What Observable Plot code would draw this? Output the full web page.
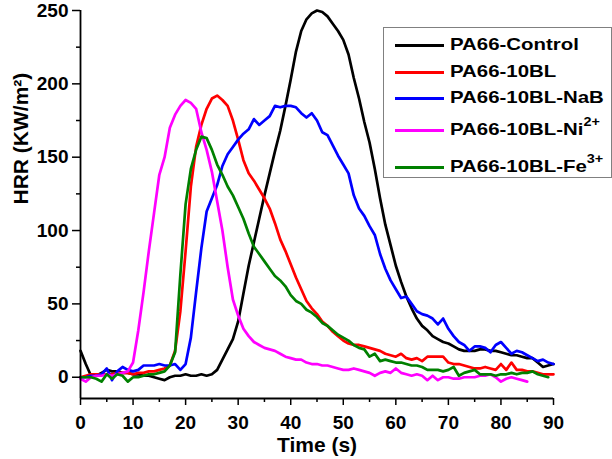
<!DOCTYPE html>
<html>
<head>
<meta charset="utf-8">
<script src="https://cdn.jsdelivr.net/npm/d3@7"></script>
<script src="https://cdn.jsdelivr.net/npm/@observablehq/plot@0.6"></script>
<style>
  html, body { margin: 0; padding: 0; background: #fff; }
  #wrap { position: relative; width: 612px; height: 459px; overflow: hidden; font-family: "Liberation Sans", Arial, sans-serif; }
  #legend { position: absolute; left: 383px; top: 27px; width: 227px; height: 149px; border: 1px solid #808080; background: #fff; }
  .row { position: absolute; left: 0; height: 0; }
  .row .sw { position: absolute; left: 11px; width: 49px; height: 3px; margin-top: -1.5px; }
  .row .lb { position: absolute; left: 66px; top: -11px; white-space: nowrap; font-weight: bold; font-size: 17px; line-height: 22px; color: #000; transform: scaleX(1.2); transform-origin: left center; }
  .row sup { font-size: 12px; position: relative; top: -2px; vertical-align: super; line-height: 0; }
</style>
</head>
<body>
<div id="wrap"></div>
<script>
// ---- data ----
const time = [0,1,2,3,4,5,6,7,8,9,10,11,12,13,14,15,16,17,18,19,20,21,22,23,24,25,26,27,28,29,30,31,32,33,34,35,36,37,38,39,40,41,42,43,44,45,46,47,48,49,50,51,52,53,54,55,56,57,58,59,60,61,62,63,64,65,66,67,68,69,70,71,72,73,74,75,76,77,78,79,80,81,82,83,84,85,86,87,88,89,90];

const seriesNames = ["PA66-Control", "PA66-10BL", "PA66-10BL-NaB", "PA66-10BL-Ni2+", "PA66-10BL-Fe3+"];
const seriesColors = ["#000000", "#ff0000", "#0000ff", "#ff00ff", "#008000"];

const control = [18,9,1,1,3,5,4,4,3,3,2,2,1,1,0,-1,-2,0,1,1,2,1,1,2,1,2,5,12,19,26,38,57,76,92,108,124,139,154,168,185,203,222,236,244,248,250,249,246,241,236,230,220,204,190,174,160,142,122,104,90,76,65,55,47,40,35,32,28,26,24,23,21,19,18,18,18,19,19,18,18,17,16,15,15,14,13,13,10,7,8,9];

const bl10 = [0,1,2,2,2,2,2,3,3,3,2,3,3,4,4,5,6,8,18,45,86,130,157,172,183,190,192,189,185,175,162,148,139,134,128,122,115,105,94,86,77,68,60,52,47,43,38,35,31,28,25,23,22,22,21,20,19,18,16,15,14,16,13,12,13,11,14,14,14,14,10,9,9,8,7,6,6,7,6,5,9,5,10,5,5,4,4,3,2,2,2];

const nab = [0,0,1,1,2,6,-2,4,7,5,4,5,8,8,8,9,8,8,9,5,9,27,58,88,113,122,131,144,152,157,162,166,169,176,172,175,178,185,184,185,185,184,180,177,180,175,167,165,158,151,145,139,124,115,110,103,97,84,74,66,60,54,55,50,45,43,42,40,36,40,33,28,24,22,18,21,21,20,17,22,24,20,16,18,17,15,13,11,12,10,9];

const ni = [-1,-3,0,1,1,2,1,2,3,4,10,32,58,86,112,138,150,170,179,185,189,187,183,167,155,140,120,100,75,53,42,33,28,24,22,20,19,18,16,14,13,12,12,10,9,9,8,8,7,6,5,5,6,5,4,3,1,3,4,3,6,3,2,1,2,1,-2,1,-2,0,0,-1,-1,0,0,0,1,1,2,0,-3,-1,0,-1,-2,-3];

const fe = [0,0,0,-1,-3,2,-1,2,1,-3,0,0,1,2,2,3,4,8,17,70,118,142,155,164,163,155,145,138,130,124,116,108,98,89,84,79,74,69,66,62,56,52,50,46,44,41,37,35,32,29,27,25,22,20,19,14,16,11,12,11,10,10,9,8,8,7,5,5,5,4,5,7,1,3,4,5,2,2,2,1,2,2,3,2,3,3,4,2,1,0];

const xTicks = [0,10,20,30,40,50,60,70,80,90];
const xMinorTicks = [5,15,25,35,45,55,65,75,85];
const yTicks = [0,50,100,150,200,250];
const yMinorTicks = [25,75,125,175,225];

const xLabel = "Time (s)";
const yLabel = "HRR (KW/m²)";

// ---- build table ----
const allSeries = [control, bl10, nab, ni, fe];
const rows = [];
allSeries.forEach((vals, i) => {
  vals.forEach((v, j) => rows.push({t: time[j], v, s: seriesNames[i]}));
});

const font = "'Liberation Sans', Arial, sans-serif";

const chart = Plot.plot({
  width: 612,
  height: 459,
  marginLeft: 80,
  marginRight: 59,
  marginTop: 10,
  marginBottom: 61,
  style: {fontFamily: font, fontWeight: "bold", fontSize: "19px", color: "#000", background: "#fff", overflow: "visible"},
  x: {domain: [0, 90]},
  y: {domain: [-14.5, 250]},
  color: {domain: seriesNames, range: seriesColors},
  marks: [
    Plot.line(rows, {x: "t", y: "v", z: "s", stroke: "s", strokeWidth: 2.7, strokeLinejoin: "round"}),
    Plot.ruleX([0], {stroke: "#000", strokeWidth: 1.8}),
    Plot.ruleY([-14.5], {stroke: "#000", strokeWidth: 1.8}),
    Plot.axisX(xTicks, {tickSize: 7, tickPadding: 10, strokeWidth: 1.5, label: null, fontSize: 19, fontWeight: "bold"}),
    Plot.axisX(xMinorTicks, {tickSize: 4, strokeWidth: 1.5, tickFormat: () => "", label: null}),
    Plot.axisY(yTicks, {tickSize: 8, tickPadding: 4, strokeWidth: 1.5, label: null, fontSize: 19, fontWeight: "bold"}),
    Plot.axisY(yMinorTicks, {tickSize: 4, strokeWidth: 1.5, tickFormat: () => "", label: null}),
    Plot.text([xLabel], {frameAnchor: "bottom", lineAnchor: "middle", dy: 47, fontSize: 21, fontWeight: "bold", fill: "#000"}),
    Plot.text([yLabel], {frameAnchor: "left", lineAnchor: "middle", rotate: -90, dx: -59, fontSize: 21, fontWeight: "bold", fill: "#000"})
  ]
});

const wrap = document.getElementById("wrap");
wrap.appendChild(chart);

// ---- legend ----
const legend = document.createElement("div");
legend.id = "legend";
const rowY = [17, 44, 70, 102, 139];
const labelsHtml = ["PA66-Control", "PA66-10BL", "PA66-10BL-NaB", "PA66-10BL-Ni<sup>2+</sup>", "PA66-10BL-Fe<sup>3+</sup>"];
seriesNames.forEach((name, i) => {
  const r = document.createElement("div");
  r.className = "row";
  r.style.top = rowY[i] + "px";
  r.innerHTML = `<div class="sw" style="background:${seriesColors[i]}"></div><div class="lb">${labelsHtml[i]}</div>`;
  legend.appendChild(r);
});
wrap.appendChild(legend);
</script>
</body>
</html>
